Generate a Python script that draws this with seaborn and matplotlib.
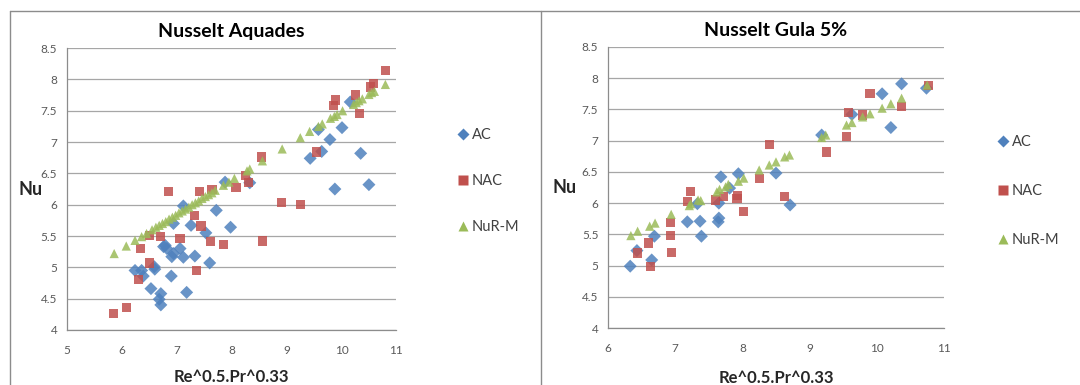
import numpy as np
import pandas as pd
import seaborn as sns
import matplotlib.pyplot as plt
from matplotlib.lines import Line2D

# --- Nusselt Aquades ---
aq_ac_x = [6.24, 6.36, 6.39, 6.53, 6.59, 6.60, 6.68, 6.71, 6.71, 6.76, 6.79, 6.82, 6.90, 6.91,
           6.94, 6.94, 7.06, 7.12, 7.12, 7.18, 7.26, 7.33, 7.53, 7.60, 7.72, 7.98, 7.88, 8.33,
           9.43, 9.58, 9.64, 9.79, 9.88, 10.01, 10.16, 10.35, 10.50]
aq_ac_y = [4.95, 4.95, 4.86, 4.66, 5.01, 4.97, 4.49, 4.58, 4.40, 5.33, 5.35, 5.30, 4.86, 5.17,
           5.22, 5.70, 5.30, 5.16, 5.98, 4.60, 5.67, 5.18, 5.55, 5.07, 5.91, 5.64, 6.36, 6.35,
           6.74, 7.20, 6.85, 7.04, 6.25, 7.23, 7.64, 6.82, 6.32]

aq_nac_x = [5.85, 6.08, 6.30, 6.34, 6.51, 6.51, 6.70, 6.85, 7.06, 7.32, 7.36, 7.41, 7.44, 7.62,
            7.64, 7.85, 8.08, 8.25, 8.31, 8.55, 8.56, 8.91, 9.25, 9.55, 9.85, 9.89, 10.25, 10.33,
            10.53, 10.59, 10.80]
aq_nac_y = [4.26, 4.36, 4.80, 5.30, 5.07, 5.51, 5.49, 6.21, 5.46, 5.83, 4.95, 6.21, 5.66, 5.41,
            6.24, 5.37, 6.28, 6.47, 6.36, 6.76, 5.42, 6.03, 6.00, 6.84, 7.59, 7.67, 7.75, 7.45,
            7.88, 7.94, 8.14]

aq_num_x = [5.86, 6.08, 6.24, 6.36, 6.45, 6.55, 6.62, 6.68, 6.74, 6.80, 6.86, 6.92, 6.98, 7.04,
            7.10, 7.16, 7.22, 7.28, 7.34, 7.40, 7.46, 7.52, 7.58, 7.64, 7.70, 7.85, 7.95, 8.05,
            8.28, 8.33, 8.56, 8.92, 9.25, 9.42, 9.58, 9.65, 9.80, 9.87, 9.92, 10.02, 10.22, 10.27,
            10.32, 10.38, 10.50, 10.55, 10.60, 10.80]
aq_num_y = [5.22, 5.34, 5.43, 5.49, 5.54, 5.60, 5.64, 5.67, 5.70, 5.73, 5.77, 5.80, 5.83, 5.87,
            5.90, 5.93, 5.96, 6.00, 6.03, 6.06, 6.10, 6.13, 6.16, 6.19, 6.23, 6.31, 6.36, 6.42,
            6.54, 6.57, 6.70, 6.89, 7.07, 7.17, 7.25, 7.29, 7.38, 7.41, 7.44, 7.50, 7.60, 7.63,
            7.66, 7.69, 7.76, 7.79, 7.81, 7.92]

# --- Nusselt Gula 5% ---
gu_ac_x = [6.33, 6.43, 6.65, 6.69, 7.18, 7.33, 7.37, 7.39, 7.64, 7.65, 7.65, 7.68, 7.81, 7.94,
           8.50, 8.71, 9.18, 9.63, 10.08, 10.21, 10.37, 10.74]
gu_ac_y = [4.99, 5.24, 5.09, 5.47, 5.70, 5.99, 5.71, 5.47, 5.70, 5.76, 6.00, 6.42, 6.24, 6.47,
           6.48, 5.97, 7.09, 7.42, 7.75, 7.21, 7.91, 7.84]

gu_nac_x = [6.44, 6.60, 6.63, 6.93, 6.93, 6.94, 7.18, 7.23, 7.60, 7.72, 7.92, 7.93, 8.02, 8.25,
            8.40, 8.63, 9.25, 9.55, 9.58, 9.79, 9.90, 10.37, 10.77]
gu_nac_y = [5.20, 5.36, 4.99, 5.69, 5.48, 5.21, 6.02, 6.19, 6.05, 6.10, 6.08, 6.12, 5.87, 6.40,
            6.94, 6.10, 6.82, 7.07, 7.45, 7.41, 7.76, 7.55, 7.88]

gu_num_x = [6.34, 6.44, 6.62, 6.70, 6.94, 7.21, 7.23, 7.34, 7.38, 7.62, 7.66, 7.75, 7.79, 7.94,
            8.02, 8.25, 8.40, 8.50, 8.63, 8.70, 9.18, 9.24, 9.55, 9.63, 9.79, 9.90, 10.08, 10.21,
            10.37, 10.75]
gu_num_y = [5.48, 5.55, 5.63, 5.68, 5.82, 5.96, 5.99, 6.05, 6.04, 6.18, 6.22, 6.26, 6.30, 6.35,
            6.40, 6.53, 6.61, 6.66, 6.74, 6.77, 7.05, 7.09, 7.25, 7.29, 7.38, 7.43, 7.52, 7.59,
            7.68, 7.89]

series_names = ['AC', 'NAC', 'NuR-M']
colors = {'AC': '#4F81BD', 'NAC': '#C0504D', 'NuR-M': '#9BBB59'}
markers = {'AC': 'D', 'NAC': 's', 'NuR-M': '^'}


def make_df(ac_x, ac_y, nac_x, nac_y, num_x, num_y):
    parts = []
    for name, xs, ys in zip(series_names, [ac_x, nac_x, num_x], [ac_y, nac_y, num_y]):
        parts.append(pd.DataFrame({'x': xs, 'y': ys, 'series': name}))
    return pd.concat(parts, ignore_index=True)


df_aq = make_df(aq_ac_x, aq_ac_y, aq_nac_x, aq_nac_y, aq_num_x, aq_num_y)
df_gu = make_df(gu_ac_x, gu_ac_y, gu_nac_x, gu_nac_y, gu_num_x, gu_num_y)

sns.set_style('white')
plt.rcParams['font.family'] = ['Lato', 'DejaVu Sans']

fig = plt.figure(figsize=(10.8, 3.85), dpi=100)
ax1 = fig.add_axes([0.062, 0.143, 0.305, 0.732])
ax2 = fig.add_axes([0.563, 0.148, 0.311, 0.73])

# axes, data, title, x range, legend x, legend top, legend spacing, xlabel pad
panels = [(ax1, df_aq, 'Nusselt Aquades', (5, 11), 0.431, 0.682, 2.2, 9),
          (ax2, df_gu, 'Nusselt Gula 5%', (6, 11), 0.931, 0.665, 2.4, 11)]

for ax, df, title, xlim, lx, ly, lsp, xpad in panels:
    sns.scatterplot(data=df, x='x', y='y', hue='series', style='series',
                    palette=colors, markers=markers, s=44, alpha=0.85,
                    edgecolor='none', ax=ax, legend=False)
    ax.set_xlim(*xlim)
    ax.set_ylim(4, 8.5)
    ax.set_yticks(np.arange(4, 8.51, 0.5))
    ax.set_yticklabels(['4', '4.5', '5', '5.5', '6', '6.5', '7', '7.5', '8', '8.5'])
    ax.set_xticks(np.arange(xlim[0], xlim[1] + 1))
    ax.grid(axis='y', color='#a6a6a6', linewidth=0.9)
    ax.set_axisbelow(True)
    for sp in ['top', 'right']:
        ax.spines[sp].set_visible(False)
    for sp in ['left', 'bottom']:
        ax.spines[sp].set_color('#8c8c8c')
        ax.spines[sp].set_linewidth(0.9)
    ax.tick_params(axis='both', which='both', direction='out', length=4, width=0.8,
                   color='#8c8c8c', labelcolor='#595959', labelsize=8.5)
    ax.tick_params(axis='x', pad=7)
    ax.tick_params(axis='y', pad=3)
    ax.set_title(title, fontsize=14, fontweight='bold', pad=8, color='black')
    ax.set_xlabel('Re^0.5.Pr^0.33', fontsize=12, fontweight='bold', labelpad=xpad)
    ax.set_ylabel('Nu', fontsize=13, fontweight='bold', rotation=0, va='center')

    handles = [Line2D([0], [0], marker=markers[n], color='none', markerfacecolor=colors[n],
                      markeredgecolor='none', markersize=7 if n != 'AC' else 6, label=n)
               for n in series_names]
    leg = fig.legend(handles=handles, loc='upper left', bbox_to_anchor=(lx - 0.012, ly),
                     frameon=False, fontsize=10.5, labelspacing=lsp, handlelength=0.6,
                     handletextpad=0.3, borderaxespad=0)
    for t in leg.get_texts():
        t.set_color('#404040')

# y labels sit just left of the tick labels, as in the original
ax1.yaxis.set_label_coords(-0.11, 0.5)
ax2.yaxis.set_label_coords(-0.13, 0.5)

# chart-area frames
fig.add_artist(Line2D([10 / 1080, 10 / 1080], [0, 1 - 11 / 385], color='#8c8c8c', lw=1,
                      transform=fig.transFigure))
fig.add_artist(Line2D([10 / 1080, 1], [1 - 11 / 385, 1 - 11 / 385], color='#8c8c8c', lw=1,
                      transform=fig.transFigure))
fig.add_artist(Line2D([541 / 1080, 541 / 1080], [0, 1 - 11 / 385], color='#8c8c8c', lw=1,
                      transform=fig.transFigure))

fig.savefig('out.png', dpi=100)
